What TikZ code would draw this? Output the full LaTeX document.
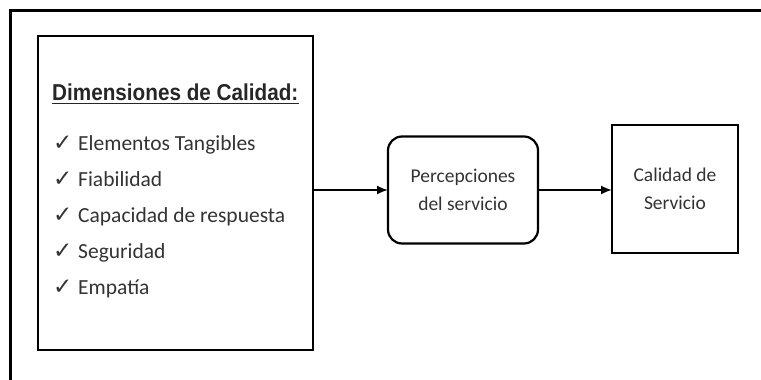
\documentclass[tikz,border=0pt]{standalone}
\usepackage{fontspec}
\setmainfont{Carlito}
\newfontfamily\headfont[FakeStretch=0.9]{Liberation Sans}
\newfontfamily\checkfont{DejaVu Sans}
\usepackage{tikz}
\usetikzlibrary{arrows,arrows.meta,shapes,calc}
\usetikzlibrary{positioning}
\tikzstyle{arrow}=[draw,-{Latex[length=11pt,width=9pt]},line width=1.8pt]
\tikzstyle{block} =
  [rectangle, draw, line width=2.2pt, text centered, align=center,
   inner sep=0pt, outer sep=0pt, text=black!80, font=\fontsize{19.5}{28}\selectfont]
\tikzstyle{item} =
  [inner sep=0pt, anchor=north west, text height=18pt, text depth=17.7pt,
   text=black!80, font=\fontsize{21.5}{26}\selectfont]
\newcommand{\chk}{\makebox[25pt][l]{\checkfont\fontsize{23}{24}\selectfont ✓}}

\begin{document}
\begin{tikzpicture}[x=1pt, y=1pt]
  \useasboundingbox (0,0) rectangle (761,-380);
  % outer frame
  \draw [line width=3pt] (10,-382) -- (10,-10) -- (763,-10);

  \node [block, minimum width=275pt, minimum height=314pt] (dims) at (175.5,-193) {};
  \node [anchor=base west, inner sep=0pt, text=black!85,
    font=\headfont\bfseries\fontsize{23}{24}\selectfont] (title) at (52,-100)
    {Dimensiones de Calidad:};
  \draw [line width=1.8pt, black!85] ([yshift=-3.5pt]title.base west) to ([yshift=-3.5pt]title.base east);
  \node [item, anchor=base west] (e1) at (53,-150) {\chk Elementos Tangibles};
  \node [item, below=0pt of e1.south west, anchor=north west] (e2) {\chk Fiabilidad};
  \node [item, below=0pt of e2.south west, anchor=north west] (e3) {\chk Capacidad de respuesta};
  \node [item, below=0pt of e3.south west, anchor=north west] (e4) {\chk Seguridad};
  \node [item, below=0pt of e4.south west, anchor=north west] (e5) {\chk Empatía};

  \node [block, rounded corners=14pt, minimum width=150pt, minimum height=107pt,
    right=75pt of dims, yshift=3pt] (perc) {Percepciones\\del servicio};
  \node [block, minimum width=126pt, minimum height=128pt,
    right=74pt of perc, yshift=1pt] (cal) {Calidad de\\Servicio};

  \draw [arrow] (dims.east |- perc.west) to (perc.west);
  \draw [arrow] (perc.east) to (cal.west |- perc.east);
\end{tikzpicture}
\end{document}
